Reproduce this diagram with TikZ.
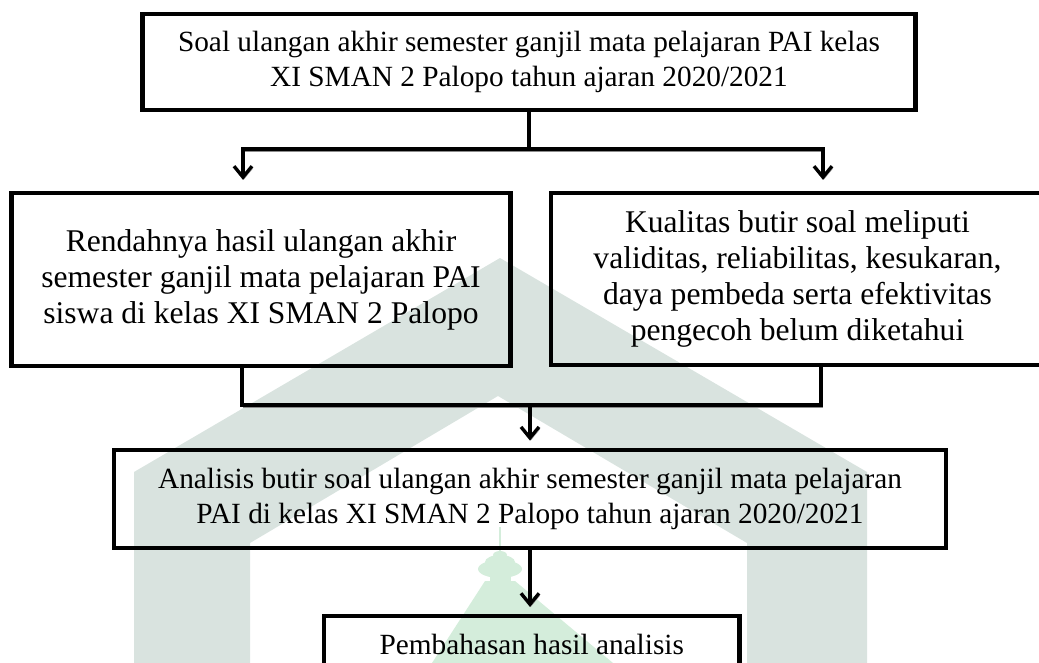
\documentclass[tikz,border=0pt]{standalone}
\usepackage{fontspec}
\setmainfont{Liberation Serif}
\usetikzlibrary{arrows.meta}
\definecolor{wmgrey}{RGB}{217,227,223}
\definecolor{wmgreen}{RGB}{212,237,219}

\begin{document}
\begin{tikzpicture}[x=1pt,y=-1pt,
  kotak/.style={draw, line width=4.3pt, align=center, inner sep=0pt,
    font=\fontsize{29.3}{35.5}\selectfont},
  besar/.style={font=\fontsize{31.6}{36}\selectfont},
  garis/.style={line width=3.4pt, line cap=rect,
    preaction={draw=black!45, transform canvas={shift={(0.8pt,-2.2pt)}}}},
  panah/.style={garis, -{Straight Barb[length=11pt,width=18pt]}}]
\useasboundingbox (0,0) rectangle (1039,663);
%----watermark----------------------------------
\fill[wmgrey] (134,663) -- (134,472) -- (500,258) -- (867,472) -- (867,663)
    -- (747,663) -- (747,543) -- (498,396) -- (250,543) -- (250,663) -- cycle;
\fill[wmgreen] (498.6,527) rectangle (501.4,552);
\fill[wmgreen] (500,555) ellipse [x radius=7, y radius=4];
\fill[wmgreen] (500,562) ellipse [x radius=15, y radius=7];
\fill[wmgreen] (500,569) ellipse [x radius=22, y radius=9];
\fill[wmgreen] (490,575) rectangle (511,583);
\fill[wmgreen] (485,581) -- (515,581) -- (613,663) -- (432,663) -- cycle;
%----boxes--------------------------------------
\node[kotak, minimum width=773pt, minimum height=96.5pt] (soal) at (529,62)
    {Soal ulangan akhir semester ganjil mata pelajaran PAI kelas\\XI SMAN 2 Palopo tahun ajaran 2020/2021};
\node[kotak, besar, minimum width=499pt, minimum height=173pt] (rendah) at (261,279.5)
    {Rendahnya hasil ulangan akhir\\semester ganjil mata pelajaran PAI\\siswa di kelas XI SMAN 2 Palopo};
\node[kotak, besar, minimum width=493pt, minimum height=172pt] (kualitas) at (797.5,279)
    {Kualitas butir soal meliputi\\validitas, reliabilitas, kesukaran,\\daya pembeda serta efektivitas\\pengecoh belum diketahui};
\node[kotak, minimum width=831.5pt, minimum height=97.5pt] (analisis) at (530,499)
    {Analisis butir soal ulangan akhir semester ganjil mata pelajaran\\PAI di kelas XI SMAN 2 Palopo tahun ajaran 2020/2021};
\node[kotak, minimum width=415.5pt, text height=38pt, text depth=60pt, anchor=north] (bahas) at (531.75,614)
    {Pembahasan hasil analisis};
%----branch to the two boxes--------------------
\coordinate (cabang) at (529,149);
\coordinate (kiri) at (243,149);
\coordinate (kanan) at (823,149);
\draw[garis] (soal.south) -- (cabang);
\draw[garis] (kiri) -- (kanan);
\draw[panah, shorten >=11pt] (kiri) -- (kiri |- rendah.north);
\draw[panah, shorten >=11pt] (kanan) -- (kanan |- kualitas.north);
%----join to analisis---------------------------
\coordinate (bawahki) at (242,405);
\coordinate (bawahka) at (821,405);
\coordinate (temu) at (530,405);
\draw[garis] (bawahki |- rendah.south) -- (bawahki) -- (bawahka) -- (bawahka |- kualitas.south);
\draw[panah, shorten >=7.5pt] (temu) -- (temu |- analisis.north);
%----to pembahasan------------------------------
\draw[panah, shorten >=7pt] (analisis.south) -- (analisis.south |- bahas.north);
\end{tikzpicture}
\end{document}
